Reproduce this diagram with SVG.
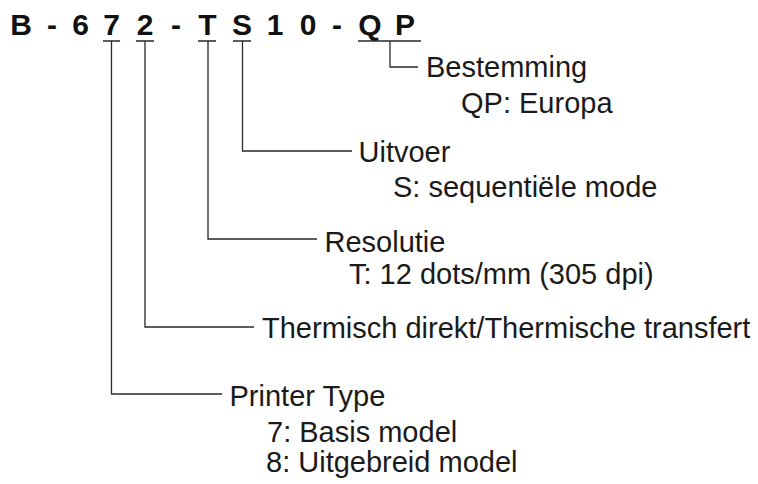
<svg xmlns="http://www.w3.org/2000/svg" width="758" height="484" viewBox="0 0 758 484">
<style>
.t{font-family:"Liberation Sans",Arial,sans-serif;font-size:29px;fill:#1a1a1a}
.h{font-family:"Liberation Sans",Arial,sans-serif;font-size:30px;font-weight:bold;fill:#111}
.c{fill:none;stroke:#2a2a2a;stroke-width:1.3}
</style>
<rect width="758" height="484" fill="#fff"/>
<g id="title">
<text class="h" text-anchor="middle" y="35" x="21 52 80.5 111.5 145 176 207.5 242 275 308 337 370 405">B-672-TS10-QP</text>
</g>
<g id="connectors">
<path class="c" d="M103 41H120M136 41H154M198 41H216M233 41H251M358 41H421"/>
<path class="c" d="M111.5 41V394H222"/>
<path class="c" d="M145 41V327H254"/>
<path class="c" d="M208 41V239H317"/>
<path class="c" d="M242.5 41V151H352"/>
<path class="c" d="M390 41V67H418"/>
</g>
<g id="bestemming">
<text class="t" x="426" y="77">Bestemming</text>
<text class="t" x="461" y="113">QP: Europa</text>
</g>
<g id="uitvoer">
<text class="t" x="358.5" y="162">Uitvoer</text>
<text class="t" x="393" y="197">S: sequentiële mode</text>
</g>
<g id="resolutie">
<text class="t" x="324.5" y="252">Resolutie</text>
<text class="t" x="349" y="284">T: 12 dots/mm (305 dpi)</text>
</g>
<g id="thermisch">
<text class="t" x="262" y="338">Thermisch direkt/Thermische transfert</text>
</g>
<g id="printertype">
<text class="t" x="229.5" y="406">Printer Type</text>
<text class="t" x="267" y="442">7: Basis model</text>
<text class="t" x="266" y="472">8: Uitgebreid model</text>
</g>
</svg>
